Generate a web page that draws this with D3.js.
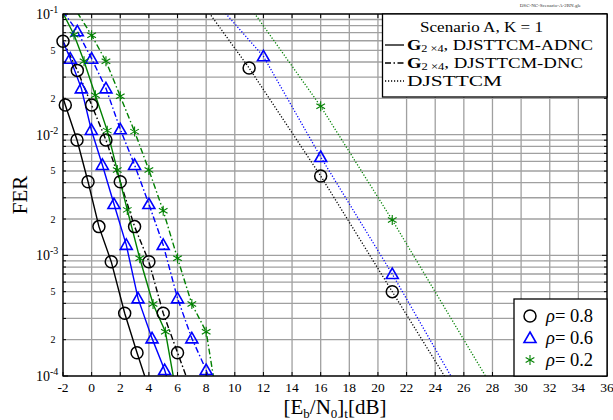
<!DOCTYPE html>
<html><head><meta charset="utf-8">
<script src="https://cdn.jsdelivr.net/npm/d3@7"></script>
<style>body{margin:0;background:#fff}svg{display:block}text{font-family:"Liberation Serif","DejaVu Serif",serif}</style>
</head><body><svg id="c" width="613" height="420"></svg>
<script>
// ---- data ----
const xTicks = [-2,0,2,4,6,8,10,12,14,16,18,20,22,24,26,28,30,32,34,36];
const yMajor = [1e-1,1e-2,1e-3,1e-4];
const yMajorLabels = ["-1","-2","-3","-4"];
const yMinorLabelVals = [5e-2,2e-2,5e-3,2e-3,5e-4,2e-4];
const yMinorLabels = ["5","2","5","2","5","2"];

// rho = 0.8
const snr08_adnc = [-2.6,-1.84,-1.02,-0.25,0.51,1.37,2.31,3.17,4.07];
const fer08_adnc = [0.0341,0.0176,0.00903,0.00407,0.00173,0.000886,0.000331,0.000156,0.000074];
const snr08_dnc  = [-2,-1,0,1,2,3,4,5,6,7];
const fer08_dnc  = [0.0594,0.0341,0.0176,0.00903,0.00407,0.00173,0.000886,0.000331,0.000156,0.000074];
const snr08_dj   = [6,11,16,21,26];
const fer08_dj   = [0.235,0.0357,0.00455,0.000500,0.000055];
// rho = 0.6
const snr06_adnc = [-2.3,-1.49,-0.72,-0.02,0.75,1.56,2.42,3.24,4.22,5.10,6.0];
const fer06_adnc = [0.0719,0.0426,0.0242,0.01094,0.00561,0.00266,0.00122,0.00044,0.000205,0.000112,0.00005];
const snr06_dnc  = [-2,-1,0,1,2,3,4,5,6,7,8,9];
const fer06_dnc  = [0.105,0.0719,0.0426,0.0242,0.01108,0.00561,0.00266,0.00122,0.00044,0.000205,0.000112,0.00005];
const snr06_dj   = [7,12,16,21,26];
const fer06_dj   = [0.21,0.0446,0.00653,0.0007,0.000065];
// rho = 0.2
const snr02_adnc = [-2.1,-1.23,-0.53,0.26,1.09,1.79,2.49,3.36,4.29,5.15,6.0];
const fer02_adnc = [0.107,0.0674,0.0406,0.0212,0.0108,0.00509,0.00238,0.000945,0.000395,0.000233,0.000063];
const snr02_dnc  = [-1,0,1,2,3,4,5,6,7,8,9];
const fer02_dnc  = [0.103,0.0666,0.0406,0.0208,0.0106,0.00509,0.00234,0.000945,0.000395,0.000233,0.000043];
const snr02_dj   = [11,16,21,28];
const fer02_dj   = [0.117,0.01718,0.00196,0.00008];

const schemeLabels = ["DJSTTCM-ADNC","DJSTTCM-DNC","DJSTTCM"];
const rhoLabels = ["0.8","0.6","0.2"];

// ---- drawing ----
const svg = d3.select("#c");
const L=63,R=607,T=14,B=376;
const x = d3.scaleLinear().domain([-2,36]).range([L,R]);
const y = d3.scaleLog().domain([1e-4,1e-1]).range([B,T]);
const gridCol = "#a0a0a0";

const colors = {"0.8":"#000","0.6":"#0000ff","0.2":"#008000"};
const marks  = {"0.8":"circle","0.6":"triangle","0.2":"star"};
const dashes = {"DJSTTCM-ADNC":null,"DJSTTCM-DNC":"6,2.5,1.5,2.5","DJSTTCM":"1.2,1.8"};

const series = [
  {rho:"0.8",sch:"DJSTTCM-ADNC",xs:snr08_adnc,ys:fer08_adnc},
  {rho:"0.8",sch:"DJSTTCM-DNC",xs:snr08_dnc,ys:fer08_dnc},
  {rho:"0.8",sch:"DJSTTCM",xs:snr08_dj,ys:fer08_dj},
  {rho:"0.6",sch:"DJSTTCM-ADNC",xs:snr06_adnc,ys:fer06_adnc},
  {rho:"0.6",sch:"DJSTTCM-DNC",xs:snr06_dnc,ys:fer06_dnc},
  {rho:"0.6",sch:"DJSTTCM",xs:snr06_dj,ys:fer06_dj},
  {rho:"0.2",sch:"DJSTTCM-ADNC",xs:snr02_adnc,ys:fer02_adnc},
  {rho:"0.2",sch:"DJSTTCM-DNC",xs:snr02_dnc,ys:fer02_dnc},
  {rho:"0.2",sch:"DJSTTCM",xs:snr02_dj,ys:fer02_dj},
];

// grid
const gGrid = svg.append("g");
xTicks.forEach(v=>{
  gGrid.append("line").attr("x1",x(v)).attr("x2",x(v)).attr("y1",T).attr("y2",B)
    .attr("stroke",gridCol).attr("stroke-width",1.3);
});
const yGridVals=[];
[-4,-3,-2].forEach(e=>{for(let m=1;m<=9;m++){yGridVals.push(m*Math.pow(10,e));}});
yGridVals.push(1e-1);
yGridVals.forEach(v=>{
  gGrid.append("line").attr("x1",L).attr("x2",R).attr("y1",y(v)).attr("y2",y(v))
    .attr("stroke",gridCol).attr("stroke-width",1.3);
});

// clip
svg.append("clipPath").attr("id","clp").append("rect").attr("x",L).attr("y",T).attr("width",R-L).attr("height",B-T);

const line = d3.line().x(d=>x(d[0])).y(d=>y(d[1]));
const gLines = svg.append("g").attr("clip-path","url(#clp)");
series.forEach(s=>{
  const pts = s.xs.map((v,i)=>[v,s.ys[i]]);
  const p = gLines.append("path").attr("d",line(pts)).attr("fill","none")
    .attr("stroke",colors[s.rho]).attr("stroke-width",s.sch==="DJSTTCM"?1.3:1.4);
  if(dashes[s.sch]) p.attr("stroke-dasharray",dashes[s.sch]);
});

function drawMarker(g,type,cx,cy,col){
  if(type==="circle"){
    g.append("circle").attr("cx",cx).attr("cy",cy).attr("r",6).attr("fill","none").attr("stroke",col).attr("stroke-width",1.5);
  } else if(type==="triangle"){
    const h=6;
    g.append("path").attr("d",`M${cx},${cy-h} L${cx+h},${cy+h*0.75} L${cx-h},${cy+h*0.75} Z`)
      .attr("fill","none").attr("stroke",col).attr("stroke-width",1.6);
  } else {
    const r=5;
    const a=[90,30,150];
    a.forEach(t=>{const rad=t*Math.PI/180;
      g.append("line").attr("x1",cx-r*Math.cos(rad)).attr("y1",cy-r*Math.sin(rad))
        .attr("x2",cx+r*Math.cos(rad)).attr("y2",cy+r*Math.sin(rad))
        .attr("stroke",col).attr("stroke-width",1.1);});
  }
}
const gMarks = svg.append("g");
series.forEach(s=>{
  s.xs.forEach((v,i)=>{
    const f=s.ys[i];
    if(v<-2||v>36||f<1e-4||f>1e-1) return;
    drawMarker(gMarks,marks[s.rho],x(v),y(f),colors[s.rho]);
  });
});

// axes box and ticks
svg.append("rect").attr("x",L).attr("y",T).attr("width",R-L).attr("height",B-T)
  .attr("fill","none").attr("stroke","#000").attr("stroke-width",1.3);
const gT = svg.append("g").attr("stroke","#000").attr("stroke-width",1);
xTicks.forEach(v=>{
  gT.append("line").attr("x1",x(v)).attr("x2",x(v)).attr("y1",B).attr("y2",B-4);
  gT.append("line").attr("x1",x(v)).attr("x2",x(v)).attr("y1",T).attr("y2",T+4);
});
yGridVals.forEach(v=>{
  const len = yMajor.includes(v)?5:3;
  gT.append("line").attr("x1",L).attr("x2",L+len).attr("y1",y(v)).attr("y2",y(v));
  gT.append("line").attr("x1",R).attr("x2",R-len).attr("y1",y(v)).attr("y2",y(v));
});

// tick labels
const gL = svg.append("g").attr("fill","#000");
xTicks.forEach(v=>{
  gL.append("text").attr("x",x(v)).attr("y",392).attr("text-anchor","middle")
    .attr("font-size",13.5).text(String(v));
});
yMajor.forEach((v,i)=>{
  const t = gL.append("text").attr("x",36).attr("y",y(v)+5).attr("font-size",14);
  t.append("tspan").text("10");
  t.append("tspan").attr("dy",-6).attr("font-size",10).text(yMajorLabels[i]);
});
yMinorLabelVals.forEach((v,i)=>{
  gL.append("text").attr("x",53).attr("y",y(v)+3.5).attr("text-anchor","middle")
    .attr("font-size",10).text(yMinorLabels[i]);
});

// axis titles
svg.append("text").attr("transform","translate(27,195) rotate(-90)").attr("text-anchor","middle")
  .attr("font-size",21).text("FER");
const xt = svg.append("text").attr("x",335).attr("y",414).attr("text-anchor","middle").attr("font-size",21);
xt.append("tspan").text("[E");
xt.append("tspan").attr("dy",4).attr("font-size",13).text("b");
xt.append("tspan").attr("dy",-4).text("/N");
xt.append("tspan").attr("dy",4).attr("font-size",13).text("0");
xt.append("tspan").attr("dy",-4).text("]");
xt.append("tspan").attr("dy",4).attr("font-size",13).text("t");
xt.append("tspan").attr("dy",-4).text("[dB]");

// file tag
svg.append("text").attr("x",581).attr("y",7).attr("text-anchor","end").attr("font-size",5)
  .attr("fill","#333").text("DSC-NC-Scenario-A-2RN.gle");

// legend 1
const lg1 = svg.append("g");
lg1.append("rect").attr("x",382.5).attr("y",T).attr("width",R-382.5).attr("height",83)
  .attr("fill","#fff").attr("stroke","#000").attr("stroke-width",1.3);
lg1.append("text").attr("x",420).attr("y",32).attr("font-size",15.5)
  .attr("textLength",123).attr("lengthAdjust","spacingAndGlyphs").text("Scenario A, K = 1");
const rowsY=[45,63,81];
const rowLens=[186,176,95];
schemeLabels.forEach((lab,i)=>{
  const yy=rowsY[i];
  const ln = lg1.append("line").attr("x1",385).attr("x2",404).attr("y1",yy).attr("y2",yy)
    .attr("stroke","#000").attr("stroke-width",1.3);
  if(dashes[lab]) ln.attr("stroke-dasharray",dashes[lab]);
  const t = lg1.append("text").attr("x",407).attr("y",yy+5).attr("font-size",15)
    .attr("textLength",rowLens[i]).attr("lengthAdjust","spacingAndGlyphs");
  if(lab!=="DJSTTCM"){
    t.append("tspan").attr("font-weight","bold").text("G");
    t.append("tspan").attr("dy",2).attr("font-size",10).text("2 \u00d74");
    t.append("tspan").attr("dy",-2).text(", "+lab);
  } else {
    t.append("tspan").text(lab);
  }
});

// legend 2
const lg2 = svg.append("g");
lg2.append("rect").attr("x",514).attr("y",299).attr("width",R-514).attr("height",B-299)
  .attr("fill","#fff").attr("stroke","#000").attr("stroke-width",1.3);
const rows2=[316,338,360];
rhoLabels.forEach((r,i)=>{
  drawMarker(lg2,marks[r],530,rows2[i],colors[r]);
  const t = lg2.append("text").attr("x",546).attr("y",rows2[i]+6).attr("font-size",18.5);
  t.append("tspan").attr("font-style","italic").text("\u03c1");
  t.append("tspan").text("= "+r);
});
</script></body></html>
